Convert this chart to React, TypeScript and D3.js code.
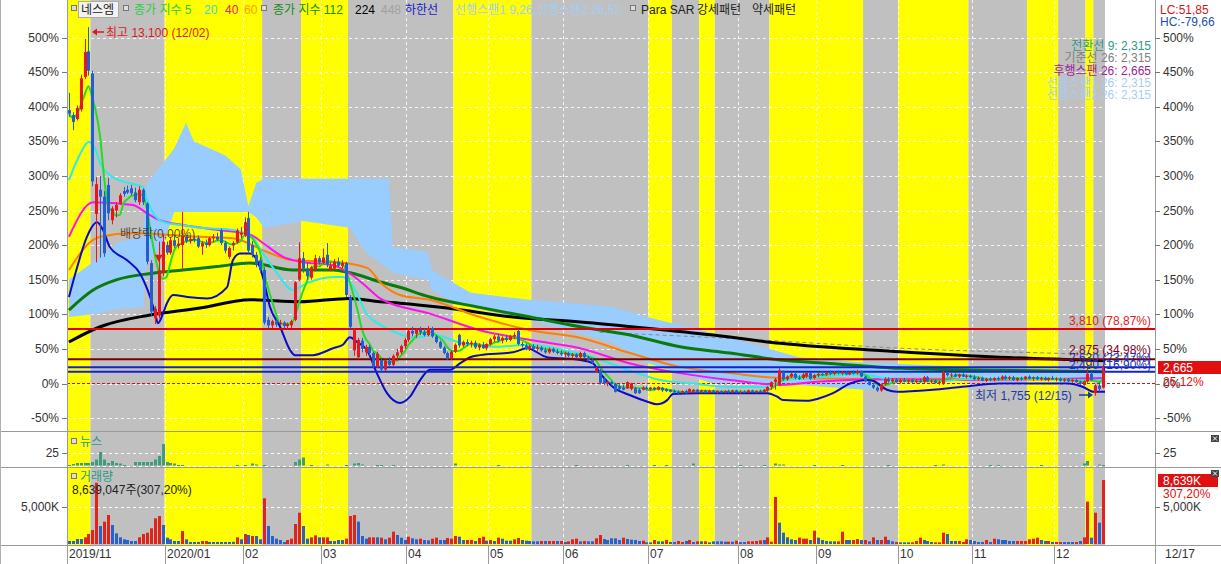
import React from 'react';
import * as d3 from 'd3';

const W = 1221;
const H = 564;
const N = 266;

// [open, high, low, close] in % versus base price 2,130
const candles: number[][] = [
  [395,420,385,390],[388,392,366,378],[382,402,380,398],[396,446,393,441],[443,498,440,479],
  [480,515,445,452],[448,452,285,292],[245,298,175,288],[280,300,182,270],[270,278,183,188],
  [287,297,236,246],[236,256,230,253],[250,262,240,258],[260,275,258,272],[278,284,270,274],
  [280,286,274,276],[282,287,272,275],[276,283,262,265],[262,285,258,280],[280,282,258,262],
  [260,262,172,176],[174,178,98,104],[94,112,86,108],[98,205,94,164],[160,215,155,205],
  [200,205,186,189],[189,212,186,207],[207,214,196,199],[199,210,195,202],[200,248,164,214],
  [212,215,203,206],[206,212,202,209],[209,213,204,207],[210,214,196,198],[198,206,186,203],
  [203,208,196,200],[200,212,198,210],[210,216,204,212],[212,218,206,208],[221,224,200,203],
  [203,206,188,192],[183,198,180,196],[200,206,192,203],[204,224,202,221],[215,226,210,218],
  [214,240,212,233],[239,248,188,192],[200,206,182,186],[186,190,168,172],[178,182,160,164],
  [164,168,85,88],[92,96,80,84],[84,92,80,90],[90,93,82,85],[86,92,83,88],
  [88,90,80,83],[83,88,78,86],[84,92,80,90],[92,148,90,146],[150,204,148,181],
  [181,190,160,166],[166,174,150,155],[153,170,150,168],[165,186,162,181],[181,184,172,175],
  [174,195,172,182],[186,203,168,172],[164,175,162,170],[166,180,164,176],[176,182,168,170],
  [170,178,166,174],[174,176,125,128],[125,128,78,82],[48,80,40,77],[38,66,35,63],
  [62,66,45,50],[45,56,40,53],[53,56,40,44],[44,46,22,25],[24,46,22,43],
  [34,36,17,20],[20,35,18,33],[33,38,24,27],[27,42,25,40],[40,50,33,45],
  [45,56,42,54],[54,66,50,63],[63,80,60,76],[76,82,68,72],[72,80,66,78],
  [78,82,70,74],[74,80,68,70],[70,83,68,80],[80,82,66,68],[68,70,58,60],
  [60,62,50,52],[52,54,42,44],[44,46,34,36],[36,48,34,46],[46,58,44,56],
  [70,72,52,55],[55,62,52,60],[60,64,54,57],[57,62,52,59],[59,62,50,52],
  [52,58,48,56],[56,60,50,51],[51,58,48,57],[57,66,55,64],[64,70,60,68],
  [68,72,60,62],[62,68,58,66],[66,70,60,63],[63,70,61,68],[68,74,64,70],
  [76,79,55,57],[57,60,52,55],[55,58,48,50],[50,56,47,54],[54,57,48,50],
  [50,56,47,52],[52,54,46,48],[48,52,43,45],[45,52,43,50],[50,52,44,46],
  [46,50,42,44],[44,48,40,42],[42,46,38,44],[44,46,38,40],[40,44,36,42],
  [42,44,36,38],[38,46,36,44],[44,46,36,38],[38,40,32,34],[34,36,28,30],
  [17,24,15,22],[19,21,-1,1],[6,10,-2,0],[0,4,-4,2],[2,4,-3,-1],
  [0,1,-13,-12],[-4,-1,-10,-8],[-6,-2,-10,-9],[-7,3,-8,2],[-8,1,-10,0],
  [-7,-5,-15,-14],[-9,-7,-15,-14],[-9,-4,-10,-6],[-6,-4,-10,-8],[-8,-5,-10,-6],
  [-6,-5,-10,-9],[-9,-4,-10,-5],[-6,-5,-12,-10],[-8,-7,-12,-11],[-9,-8,-13,-12],
  [-11,-9,-15,-13],[-12,-10,-16,-14],[-13,-10,-15,-11],[-11,-9,-15,-14],[-13,-7,-14,-8],
  [-12,-8,-14,-9],[-9,-8,-13,-12],[-12,-9,-14,-10],[-10,-9,-14,-13],[-12,-9,-14,-10],
  [-10,-9,-13,-12],[-12,-10,-15,-11],[-11,-10,-14,-13],[-13,-10,-14,-11],[-11,-9,-14,-12],
  [-12,-9,-14,-10],[-10,-9,-14,-13],[-13,-10,-15,-12],[-12,-10,-14,-13],[-13,-9,-14,-10],
  [-10,-9,-13,-12],[-12,-10,-14,-11],[-11,-9,-13,-12],[-12,-8,-13,-9],[-10,-4,-12,-5],
  [-5,3,-9,2],[2,8,-9,6],[-2,22,-3,19],[17,19,4,6],[6,12,4,10],
  [10,16,8,14],[14,16,6,8],[8,12,5,7],[8,15,6,13],[10,16,8,15],
  [15,16,5,7],[8,14,6,12],[12,16,9,14],[14,18,11,13],[13,17,11,16],
  [16,19,12,14],[14,18,12,17],[17,19,13,15],[15,18,12,16],[16,18,12,13],
  [13,17,12,16],[16,19,13,15],[15,20,13,18],[18,19,9,10],[10,11,2,3],
  [3,4,-3,-2],[-2,0,-8,-6],[-6,-4,-12,-10],[-10,0,-12,-1],[-1,9,-3,7],
  [7,9,1,3],[3,8,1,6],[6,8,1,2],[2,7,0,5],[5,8,2,3],
  [3,6,0,5],[5,7,1,2],[2,6,0,4],[4,7,1,2],[2,11,1,9],
  [9,11,2,3],[3,6,0,4],[4,6,0,1],[1,4,-2,2],[-1,18,-2,16],
  [16,17,10,12],[12,15,9,13],[13,15,9,10],[10,14,8,13],[13,15,9,10],
  [10,13,7,11],[11,13,8,9],[9,12,5,6],[6,10,4,8],[8,10,3,4],
  [4,8,2,7],[7,9,3,5],[5,9,3,8],[8,10,4,6],[6,12,5,10],
  [10,12,5,7],[7,11,5,9],[9,11,4,5],[5,9,3,8],[8,10,4,6],
  [6,11,5,10],[10,12,6,7],[7,10,4,9],[9,11,5,6],[6,10,4,8],
  [8,10,4,5],[5,9,3,8],[8,11,5,6],[6,9,3,7],[7,9,3,4],
  [4,8,2,6],[6,8,2,3],[3,7,1,5],[5,7,1,2],[2,4,-2,0],
  [-2,4,-3,3],[3,27,1,14],[14,17,4,5],[-14,-1,-17.6,-3],[-3,2,-12,-8],
  [-6,27,-7,25.12],
];

// daily volume in thousands of shares
const volumeK: number[] = [
  405,405,675,675,900,1350,1890,8280,2430,3020,
  3920,2570,1440,900,630,540,405,405,900,1350,
  1530,2120,3470,3780,2570,855,630,405,405,1756,
  630,270,270,270,405,405,270,270,270,270,
  270,270,300,900,630,1350,1215,1080,1080,630,
  6170,2430,1080,720,540,270,540,720,2700,4230,
  2430,720,900,1170,900,900,900,405,405,540,
  540,720,3780,3920,3020,1080,720,900,900,900,
  855,630,855,1666,1215,855,540,990,765,630,
  720,540,495,720,855,540,540,810,720,1080,
  990,540,540,540,405,810,990,450,540,405,
  855,720,450,450,630,810,540,450,405,360,
  360,405,405,405,405,405,405,270,360,630,
  720,360,405,360,360,765,1215,675,540,765,
  765,540,855,675,585,540,405,450,225,225,
  540,360,360,540,270,270,405,270,405,540,
  270,360,360,360,225,360,360,360,315,315,
  315,450,270,270,360,360,405,495,540,900,
  315,6350,2880,1530,900,630,540,855,720,720,
  540,1800,855,540,405,360,360,360,1666,540,
  540,540,675,540,540,360,900,540,540,990,
  540,360,270,225,225,225,225,405,855,540,
  405,270,225,225,1530,1350,405,405,405,270,
  630,540,405,270,270,540,270,720,630,540,
  540,405,405,405,405,405,630,720,855,540,
  405,405,270,270,270,270,270,270,270,405,
  900,5720,855,4230,2880,8639,
];
// r = rising bar, b = falling bar
const volumeDir =
  'bbbbrrrrbr' + 'rbbbbbbbrr' + 'rrrrbbbbbr' + 'bbbbrrbbbb' + 'bbbrbrbrbb' +
  'rbbbbbrrrr' + 'bbrrbrrbbb' + 'brrrbbbrrb' + 'rbrrbbbrbb' + 'rbbrrbbrrr' +
  'bbrrbrrbrb' + 'rbbbrrbbbb' + 'brbrrbrbrr' + 'rbrbbrrbbb' + 'bbrbbbbrbb' +
  'rbbrbbrrbr' + 'brbrbbbbbr' + 'brbbrrrrbr' + 'rrbbbbbrrr' + 'brbbbbbrrb' +
  'brrbrbrbrr' + 'bbrbbbrrrb' + 'bbrrrbbbrr' + 'rbbbbrbrbb' + 'bbbrrrrrrb' +
  'brbrrbbbrb' + 'rrbrbr';

// [day index, news count]
const newsCounts: [number, number][] = [
  [0,1],[1,3],[2,5],[3,5],[4,5],[5,5],[6,7],[7,12],[8,27],[9,12],[10,5],[11,9],[12,5],[13,4],[14,1],
  [17,7],[18,7],[19,7],[20,7],[21,7],[22,12],[23,19],[24,43],[25,7],[26,5],[27,4],[28,1],[29,1],
  [43,1],[45,1],[47,4],[48,2],[50,1],[58,7],[59,12],[60,16],[62,1],[66,2],[71,1],[73,4],[74,5],[75,2],
  [79,1],[80,1],[83,1],[99,4],[110,1],[130,1],[143,1],[150,1],[153,1],[160,4],[172,1],[178,1],
  [181,4],[182,2],[183,2],[191,1],[198,1],[210,1],[222,1],[224,2],[236,1],[238,1],[249,1],
  [260,4],[261,9],[264,2],[265,1],
];

// moving averages and bands: [day index, %]
const ma20: [number, number][] = [
  [0,294],[3,333],[5,349],[6.5,342],[8,318],[11,299],[15,290],[19,284],[20,266],[21.2,250],[22.6,239],
  [25,232],[29,229],[33.6,225],[42,222],[47.2,210],[49.7,188],[53.3,160],[57.4,135],[61,145],[67.7,154],
  [70.2,154],[72.8,140],[76.4,100],[79.7,85],[84.1,73],[88.2,66],[93.3,70],[101,58],[109.7,53],[118.2,56],
  [126.6,48],[134.3,38],[143,20],[151.5,5],[160,0],[169,-5],[178,-5],[184,5],[192.5,9],[200,13],[205,12],
  [210,6],[214,3],[222,3],[230,6],[240,6],[250,6],[258,5],[262,4],[265.5,6],
];
const ma40: [number, number][] = [
  [0,212],[6.2,262],[16.4,258],[20,246],[23.3,236],[29.2,229],[37.9,222],[46.4,215],[49.7,203],[54.9,183],
  [59.2,176],[67.7,171],[72,159],[76.4,139],[79.7,123],[92.5,101],[105.3,77],[118.2,63],[131,51],[143.8,29],
  [156.6,15],[169.4,5],[182.2,-2],[192.5,3],[210,6],[230,5],[250,6],[265.5,8],
];
const ma60: [number, number][] = [
  [0,164],[5.4,204],[8,212],[16.4,217],[25.1,215],[33.6,212],[42,210],[50.8,190],[57.4,178],[67.7,176],
  [76.4,167],[80,145],[84.8,128],[92.5,121],[105.3,96],[118.2,77],[131,66],[143.8,44],[156.6,24],[169.4,15],
  [182.2,8],[200,7],[220,7],[240,6],[265.5,7],
];
const ma112: [number, number][] = [
  [0,106],[6.2,135],[12.3,150],[20.8,159],[29.2,164],[37.9,169],[46.4,174],[57.4,164],[67.7,164],[72,160],
  [79.7,147],[84.8,139],[92.5,125],[105.3,110],[118.2,96],[131,82],[143.8,70],[156.6,53],[169.4,44],[182.2,34],
  [195,29],[213,22],[238.6,19],[265.5,17],
];
const ma224: [number, number][] = [
  [0,60],[8,82],[20.8,99],[33.6,109],[46.4,121],[59.2,118],[72,123],[79.7,118],[84.8,116],[96.9,109],
  [113.8,96],[131,89],[148.1,80],[165.1,70],[182.2,58],[213,46],[238.6,38],[265.5,33],
];
const ma448: [number, number][] = [[136,74],[180,62],[213,51],[265.5,41],[277,38]];
const lowerBand: [number, number][] = [
  [0,125],[2.1,168],[4.6,212],[7.2,233],[8.7,222],[10.5,197],[14.9,178],[18.2,159],[20.8,125],[22.1,101],
  [22.8,87],[24.1,101],[25.1,116],[26.7,128],[30.3,125],[35.4,123],[40.5,139],[42,178],[43.8,188],[46.4,188],
  [48.2,178],[49.7,154],[51.5,111],[54.1,82],[56.7,48],[57.9,41],[62.5,41],[67.7,51],[70.2,56],[72,67],
  [73.8,60],[76.4,48],[78.9,15],[81.5,-14],[84.8,-28],[87.4,-19],[90,5],[92.5,20],[97.7,20],[100.2,29],
  [102.8,38],[105.3,41],[113.8,45],[117.4,51],[122.5,38],[131,34],[134.3,29],[136.1,15],[139.4,-5],[143.8,-17],
  [148.1,-26],[150.7,-30],[153.3,-24],[154.8,-15],[160.9,-14],[178.9,-14],[181.5,-19],[183,-24],[189.1,-25],
  [192.5,-21],[195.8,-14],[200.2,0],[204.5,5],[206,4],[209.6,-9],[212.2,-12],[221.4,-9],[228.4,-5],[238.6,0],
  [247,0],[255.8,0],[259.9,-5],[262.5,-12],[265.5,-12],
];
// Ichimoku cloud: [day index, upper %, lower %]
const cloud: [number, number, number][] = [
  [0,150,96],[6,175,100],[13,205,108],[19,212,110],[20,290,174],[24,318,200],[27,340,248],[30,377,248],
  [32,350,248],[40,330,248],[44,310,248],[46,256,248],[48,290,240],[50,296,225],[60,296,235],[72,296,225],
  [76,296,190],[82,296,165],[83,197,160],[92,190,150],[93,164,135],[98,147,120],[103,131,110],[118,121,92],
  [139,111,60],[148,96,30],[165,73,0],[187,38,-2],[204,30,-9],[213,28,5],[238,22,8],[265,20,8],
];

// strong / weak pattern shading: [from index, to index, kind]
const bands: [number, number, string][] = [
  [0,6,'strong'],[6,25,'weak'],[25,50,'strong'],[50,60,'weak'],[60,72,'strong'],[72,99,'weak'],
  [99,119,'strong'],[119,149,'weak'],[149,155,'strong'],[155,162,'weak'],[162,166,'strong'],[166,180,'weak'],
  [180,204,'strong'],[204,213,'weak'],[213,231,'strong'],[231,246,'weak'],[246,254,'strong'],[254,261,'weak'],
  [261,263,'strong'],[263,266,'weak'],
];

const monthTicks: [number, string][] = [
  [0,'2019/11'],[25,'2020/01'],[45,'02'],[65,'03'],[87,'04'],[108,'05'],[127,'06'],
  [149,'07'],[172,'08'],[192,'09'],[213,'10'],[232,'11'],[253,'12'],
];
const levelValues: number[] = [78.87, 34.98, 23.47, 16.90];
const levelLabels: string[] = ['3,810 (78,87%)', '2,875 (34,98%)', '2,630 (23,47%)', '2,490 (16,90%)'];
const pctTicks: number[] = [-50, 0, 50, 100, 150, 200, 250, 300, 350, 400, 450, 500];
const ichimokuLabels: string[] = ['전환선 9: 2,315', '기준선 26: 2,315', '후행스팬 26: 2,665', '선행스팬1 26: 2,315', '선행스팬2 26: 2,315'];
// ex-dividend marker: [day index, price level %]
const exDividend: [number, number] = [23, 186];

const FONT = "'Liberation Sans', 'Noto Sans CJK KR', sans-serif";
const UP = '#e8161b';
const DOWN = '#1f5fd2';

export default function App() {
  const x = d3.scaleLinear().domain([0, N]).range([67, 1105]);
  const y = d3.scaleLinear().domain([-50, 500]).range([418.1, 37.5]);
  const yNews = d3.scaleLinear().domain([0, 25]).range([465.5, 453]);
  const yVol = d3.scaleLinear().domain([0, 5000]).range([544, 507]);
  const cx = (i: number) => x(i + 0.5);

  const line = d3.line<[number, number]>().x(d => cx(d[0])).y(d => y(d[1])).curve(d3.curveMonotoneX);
  const closes = candles.map(c => c[3]);
  const ma5: [number, number][] = closes.map((_, i) => [i, d3.mean(closes.slice(Math.max(0, i - 4), i + 1)) as number]);
  const cloudArea = d3.area<[number, number, number]>()
    .x(d => cx(d[0])).y0(d => y(d[2])).y1(d => y(d[1])).curve(d3.curveLinear);

  const levelColors = ['#e00000', '#7a0000', '#1424c8', '#1424c8'];
  const levelLabelColors = ['#e02020', '#800020', '#2030b0', '#2030b0'];
  const ichiColors = ['#2a9a88', '#808080', '#a0209a', '#a8cdf2', '#a8cdf2'];

  const grid = '#ffffff';
  const triX = cx(exDividend[0]);
  const triY = y(exDividend[1]);

  return (
    <div style={{ position: 'absolute', left: 0, top: 0 }}>
      <svg width={W} height={H} style={{ display: 'block', fontFamily: FONT }}>
        <defs>
          <clipPath id="mainClip"><rect x={67} y={0} width={1088} height={431} /></clipPath>
        </defs>
        <rect x={0} y={0} width={W} height={H} fill="#ffffff" />
        {/* pattern shading */}
        {bands.map(([a, b, k], i) => (
          <rect key={'b' + i} x={x(a)} y={0} width={x(b) - x(a)} height={545}
            fill={k === 'strong' ? '#ffff00' : '#c0c0c0'} />
        ))}
        {/* grid */}
        {pctTicks.map(t => (
          <line key={'hg' + t} x1={67} x2={1105} y1={Math.round(y(t)) + 0.5} y2={Math.round(y(t)) + 0.5}
            stroke={grid} strokeDasharray="3,3" strokeOpacity={0.85} />
        ))}
        {monthTicks.map(([i]) => (
          <line key={'vg' + i} x1={Math.round(x(i)) + 0.5} x2={Math.round(x(i)) + 0.5} y1={0} y2={545}
            stroke={grid} strokeDasharray="3,3" strokeOpacity={0.85} />
        ))}
        <line x1={67} x2={1105} y1={Math.round(yNews(25)) + 0.5} y2={Math.round(yNews(25)) + 0.5} stroke={grid} strokeDasharray="3,3" />
        <line x1={67} x2={1105} y1={Math.round(yNews(0)) + 0.5} y2={Math.round(yNews(0)) + 0.5} stroke={grid} strokeDasharray="3,3" />
        <line x1={67} x2={1105} y1={Math.round(yVol(5000)) + 0.5} y2={Math.round(yVol(5000)) + 0.5} stroke={grid} strokeDasharray="3,3" />

        <g clipPath="url(#mainClip)">
          {/* Ichimoku cloud */}
          <path d={cloudArea(cloud) || ''} fill="#99ccff" />
          {/* zero line */}
          <line x1={67} x2={1155} y1={y(0)} y2={y(0)} stroke="#d01010" strokeDasharray="3,2" />
          {/* moving averages */}
          <path d={line(ma448) || ''} fill="none" stroke="#8a8a8a" strokeWidth={1} strokeDasharray="4,3" />
          <path d={line(ma224) || ''} fill="none" stroke="#000000" strokeWidth={3} />
          <path d={line(ma112) || ''} fill="none" stroke="#0a7a0a" strokeWidth={3} />
          <path d={line(ma60) || ''} fill="none" stroke="#ff7f00" strokeWidth={2} />
          <path d={line(ma40) || ''} fill="none" stroke="#ff10f0" strokeWidth={2} />
          <path d={line(ma20) || ''} fill="none" stroke="#33e8e8" strokeWidth={2} />
          <path d={line(ma5) || ''} fill="none" stroke="#22dd22" strokeWidth={2} />
          <path d={line(lowerBand) || ''} fill="none" stroke="#0a0ac8" strokeWidth={2} />
          {/* level lines */}
          {levelValues.map((v, i) => (
            <line key={'lv' + i} x1={67} x2={1155} y1={y(v)} y2={y(v)} stroke={levelColors[i]} strokeWidth={2} />
          ))}
          {/* candles */}
          {candles.map((c, i) => {
            const [o, h, l, cl] = c;
            const col = cl >= o ? UP : DOWN;
            const px = Math.round(cx(i));
            const top = y(Math.max(o, cl));
            const bh = Math.max(1, Math.abs(y(o) - y(cl)));
            return (
              <g key={'c' + i}>
                <line x1={px + 0.5} x2={px + 0.5} y1={y(h)} y2={y(l)} stroke={col} strokeWidth={1} />
                <rect x={px - 1} y={top} width={3} height={bh} fill={col} />
              </g>
            );
          })}
        </g>

        {/* news bars */}
        {newsCounts.map(([i, v]) => (
          <rect key={'n' + i} x={Math.round(cx(i)) - 1} y={yNews(v)} width={3} height={Math.max(1, yNews(0) - yNews(v))} fill="#3d9c7c" />
        ))}
        {/* volume bars */}
        {volumeK.map((v, i) => (
          <rect key={'v' + i} x={Math.round(cx(i)) - 1} y={yVol(v)} width={3} height={yVol(0) - yVol(v)}
            fill={volumeDir[i] === 'r' ? '#e0241a' : '#2a62c9'} />
        ))}

        {/* frames and separators */}
        <line x1={0} x2={W} y1={431.5} y2={431.5} stroke="#9a9a9a" />
        <line x1={0} x2={W} y1={467.5} y2={467.5} stroke="#9a9a9a" />
        <line x1={0} x2={W} y1={545.5} y2={545.5} stroke="#9a9a9a" />
        <line x1={67.5} x2={67.5} y1={0} y2={564} stroke="#9a9a9a" />
        <line x1={1155.5} x2={1155.5} y1={0} y2={564} stroke="#9a9a9a" />
        <line x1={0.5} x2={0.5} y1={0} y2={564} stroke="#b0b0b0" />

        {/* left / right percentage axis */}
        {pctTicks.map(t => (
          <g key={'yt' + t} fontSize={12} fill="#333">
            <line x1={62} x2={67} y1={Math.round(y(t)) + 0.5} y2={Math.round(y(t)) + 0.5} stroke="#777" />
            <text x={59} y={y(t) + 4} textAnchor="end">{t + '%'}</text>
            <line x1={1155} x2={1160} y1={Math.round(y(t)) + 0.5} y2={Math.round(y(t)) + 0.5} stroke="#777" />
            <text x={1163} y={y(t) + 4}>{t + '%'}</text>
          </g>
        ))}
        {/* news / volume axes */}
        <g fontSize={12} fill="#333">
          <line x1={62} x2={67} y1={453.5} y2={453.5} stroke="#777" />
          <text x={59} y={yNews(25) + 4} textAnchor="end">25</text>
          <line x1={1155} x2={1160} y1={453.5} y2={453.5} stroke="#777" />
          <text x={1163} y={yNews(25) + 4}>25</text>
          <line x1={62} x2={67} y1={507.5} y2={507.5} stroke="#777" />
          <text x={59} y={yVol(5000) + 4} textAnchor="end">5,000K</text>
          <line x1={1155} x2={1160} y1={507.5} y2={507.5} stroke="#777" />
          <text x={1163} y={yVol(5000) + 4}>5,000K</text>
        </g>

        {/* x axis */}
        {monthTicks.map(([i, label]) => (
          <g key={'xt' + i}>
            <line x1={Math.round(x(i)) + 0.5} x2={Math.round(x(i)) + 0.5} y1={545} y2={564} stroke="#9a9a9a" />
            <text x={Math.round(x(i)) + 2} y={558} fontSize={12} fill="#333">{label}</text>
          </g>
        ))}
        <text x={1165} y={558} fontSize={12} fill="#333">12/17</text>

        {/* legend */}
        <g fontSize={12}>
          <rect x={71.5} y={5.5} width={5} height={5} fill="#ddd" stroke="#777" />
          <rect x={78.5} y={1.5} width={40} height={16} fill="#f2f2f2" stroke="#aaa" />
          <text x={81} y={14} fill="#222">네스엠</text>
          <rect x={123.5} y={5.5} width={5} height={5} fill="#ddd" stroke="#777" />
          <text x={134} y={14} fill="#2ecc40">종가 지수 5</text>
          <text x={204} y={14} fill="#44d8c8">20</text>
          <text x={225} y={14} fill="#f0206a">40</text>
          <text x={244} y={14} fill="#ff9a00">60</text>
          <rect x={261.5} y={5.5} width={5} height={5} fill="#ddd" stroke="#777" />
          <text x={273} y={14} fill="#178a17">종가 지수 112</text>
          <text x={355} y={14} fill="#000">224</text>
          <text x={381} y={14} fill="#a0a0a0">448</text>
          <text x={405} y={14} fill="#1818c8">하한선</text>
          <text x={455} y={14} fill="#a6cef4">선행스팬1 9,26,</text>
          <text x={537} y={14} fill="#a6cef4">선행스팬2 26,52</text>
          <rect x={630.5} y={5.5} width={5} height={5} fill="#ddd" stroke="#777" />
          <text x={641} y={14} fill="#222">Para SAR</text>
          <text x={697} y={14} fill="#222">강세패턴</text>
          <text x={752} y={14} fill="#222">약세패턴</text>
        </g>

        {/* top right indicators */}
        <text x={1160} y={14} fontSize={12} fill="#d01818">LC:51,85</text>
        <text x={1160} y={26} fontSize={12} fill="#2050b0">HC:-79,66</text>
        {ichimokuLabels.map((t, i) => (
          <text key={'ich' + i} x={1151} y={50 + i * 12.3} fontSize={12} textAnchor="end" fill={ichiColors[i]}>{t}</text>
        ))}

        {/* level labels */}
        {levelLabels.map((t, i) => (
          <text key={'ll' + i} x={1151} y={y(levelValues[i]) - [4, 5, 5, 3][i]} fontSize={12} textAnchor="end" fill={levelLabelColors[i]}>{t}</text>
        ))}

        {/* annotations */}
        <g fill="#e01818" stroke="#e01818">
          <line x1={94} x2={104} y1={32} y2={32} strokeWidth={1.5} />
          <path d="M92,32 L97,28.5 L97,35.5 Z" stroke="none" />
        </g>
        <text x={106} y={37} fontSize={12} fill="#e01818">최고 13,100 (12/02)</text>
        <text x={120} y={238} fontSize={12} fill="#333" fillOpacity={0.85}>배당락(0,00%)</text>
        <path d={`M${triX - 4},${triY} L${triX + 4},${triY} L${triX},${triY + 7} Z`} fill="#e01818" />
        <text x={975} y={400} fontSize={12} fill="#1a3aa8">최저 1,755 (12/15)</text>
        <g fill="#1a3aa8" stroke="#1a3aa8">
          <line x1={1079} x2={1089} y1={395} y2={395} strokeWidth={1.5} />
          <path d="M1093,395 L1088,391.5 L1088,398.5 Z" stroke="none" />
        </g>

        {/* current price marker */}
        <rect x={1158} y={361} width={63} height={13} fill="#e01010" />
        <text x={1163} y={372} fontSize={12} fill="#ffffff">2,665</text>
        <text x={1163} y={386} fontSize={12} fill="#e01010">25,12%</text>

        {/* panel labels */}
        <rect x={71.5} y={438.5} width={5} height={5} fill="#ddd" stroke="#777" />
        <text x={80} y={446} fontSize={12} fill="#2a9a88">뉴스</text>
        <rect x={71.5} y={473.5} width={5} height={5} fill="#ddd" stroke="#777" />
        <text x={80} y={481} fontSize={12} fill="#2a9a88">거래량</text>
        <text x={72} y={494} fontSize={12} fill="#222">8,639,047주(307,20%)</text>

        <rect x={1158} y={474} width={60} height={13} fill="#e01010" />
        <text x={1163} y={485} fontSize={12} fill="#ffffff">8,639K</text>
        <text x={1163} y={498} fontSize={12} fill="#e01010">307,20%</text>

        {/* close icons */}
        {[435, 470].map(yy => (
          <g key={'x' + yy}>
            <rect x={1211} y={yy} width={8} height={7} fill="#444" />
            <path d={`M1213,${yy + 1.5} L1217,${yy + 5.5} M1217,${yy + 1.5} L1213,${yy + 5.5}`} stroke="#fff" strokeWidth={1} />
          </g>
        ))}
      </svg>
    </div>
  );
}
